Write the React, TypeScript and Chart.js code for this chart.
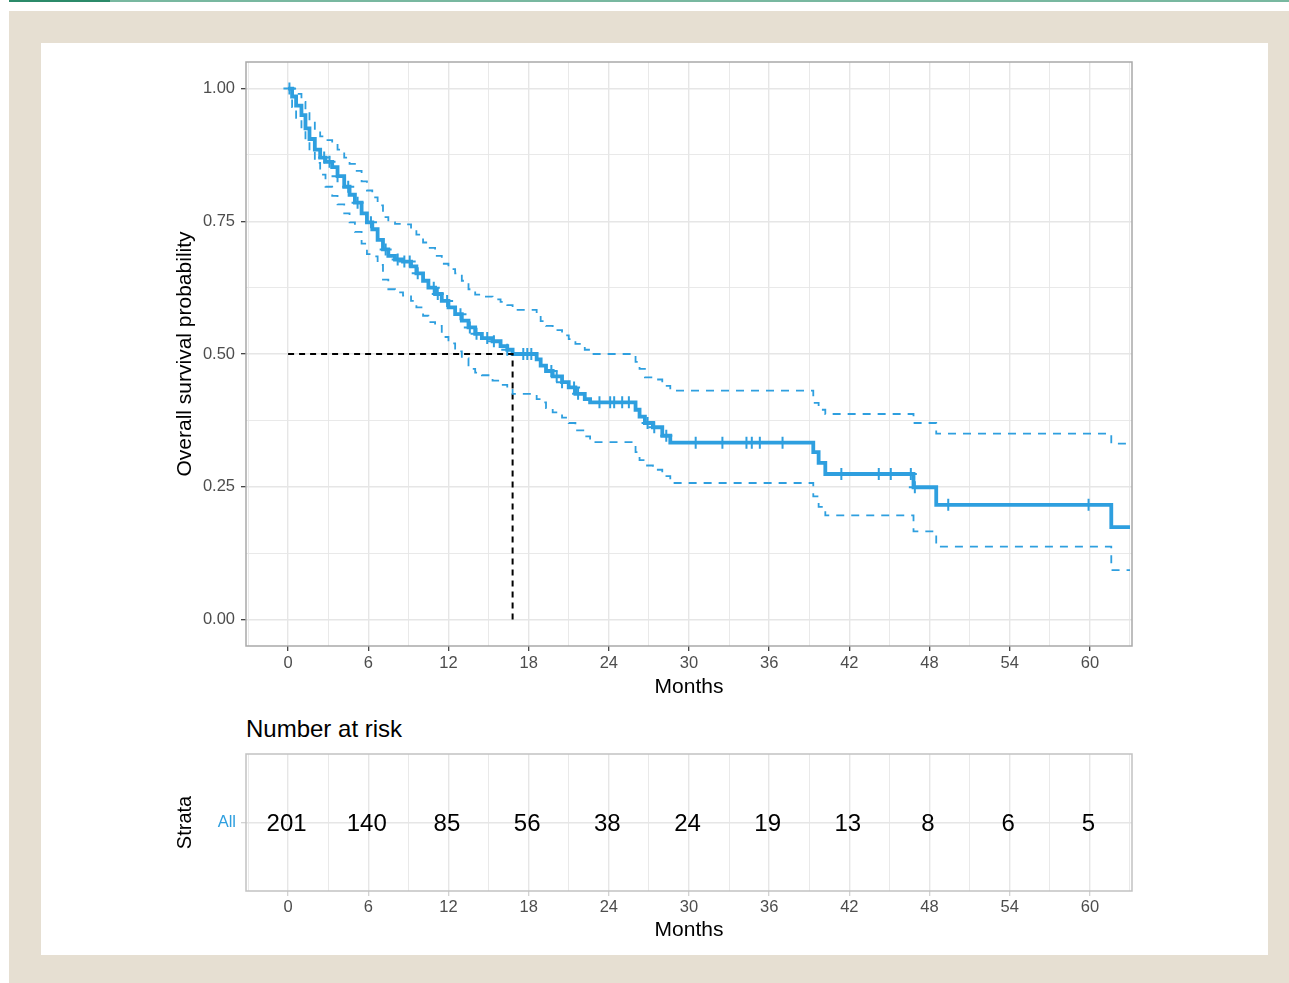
import React, { useEffect, useRef } from 'react';
import { Chart, registerables } from 'chart.js';

Chart.register(...registerables);

// ---- Data ----
const survTimes = [0, 0.3, 0.6, 1.0, 1.3, 1.6, 2.0, 2.4, 2.8, 3.3, 3.7, 4.2, 4.6, 5.0, 5.5, 5.9, 6.3, 6.7, 7.1, 7.5, 8.0, 8.6, 9.2, 9.6, 10.1, 10.5, 11.0, 11.5, 12.0, 12.5, 13.0, 13.5, 14.0, 14.5, 15.3, 15.9, 16.4, 16.8, 18.6, 18.9, 19.3, 19.8, 20.5, 21.0, 21.5, 22.2, 22.6, 26.0, 26.3, 26.7, 27.3, 28.0, 28.6, 39.3, 39.7, 40.2, 46.8, 48.5, 61.6, 63.0];
const survProb = [1.000, 0.985, 0.968, 0.950, 0.925, 0.905, 0.885, 0.870, 0.862, 0.852, 0.835, 0.815, 0.800, 0.785, 0.765, 0.748, 0.735, 0.715, 0.697, 0.685, 0.678, 0.674, 0.665, 0.652, 0.638, 0.625, 0.613, 0.600, 0.588, 0.575, 0.563, 0.550, 0.538, 0.530, 0.524, 0.515, 0.508, 0.500, 0.490, 0.478, 0.468, 0.458, 0.447, 0.437, 0.425, 0.415, 0.409, 0.395, 0.382, 0.370, 0.362, 0.346, 0.333, 0.315, 0.295, 0.274, 0.249, 0.216, 0.174, 0.174];
const upperCI = [1.000, 1.000, 0.990, 0.975, 0.958, 0.940, 0.922, 0.910, 0.903, 0.898, 0.885, 0.870, 0.858, 0.845, 0.825, 0.808, 0.795, 0.780, 0.758, 0.748, 0.745, 0.744, 0.735, 0.725, 0.710, 0.700, 0.685, 0.670, 0.660, 0.652, 0.638, 0.622, 0.612, 0.608, 0.603, 0.598, 0.592, 0.583, 0.572, 0.562, 0.553, 0.545, 0.535, 0.528, 0.519, 0.508, 0.500, 0.485, 0.472, 0.456, 0.452, 0.440, 0.431, 0.408, 0.395, 0.387, 0.370, 0.350, 0.331, 0.331];
const lowerCI = [1.000, 0.965, 0.945, 0.922, 0.900, 0.882, 0.860, 0.838, 0.815, 0.798, 0.782, 0.765, 0.748, 0.730, 0.708, 0.688, 0.684, 0.668, 0.640, 0.622, 0.616, 0.610, 0.600, 0.588, 0.572, 0.560, 0.553, 0.532, 0.520, 0.505, 0.492, 0.472, 0.465, 0.460, 0.450, 0.442, 0.436, 0.425, 0.415, 0.409, 0.398, 0.390, 0.380, 0.370, 0.356, 0.345, 0.334, 0.315, 0.300, 0.290, 0.282, 0.270, 0.257, 0.232, 0.212, 0.196, 0.166, 0.137, 0.093, 0.093];
const censorTimes = [0.1, 2.7, 3.1, 3.7, 4.5, 5.2, 6.2, 7.3, 8.2, 8.7, 9.1, 9.7, 10.9, 11.2, 11.9, 12.9, 13.6, 14.1, 14.9, 15.4, 16.4, 17.6, 17.9, 18.2, 19.7, 20.1, 20.5, 21.4, 21.7, 23.3, 24.1, 24.4, 25.0, 25.5, 26.9, 27.4, 28.3, 30.5, 32.5, 34.3, 34.7, 35.3, 37.0, 41.4, 44.2, 45.1, 46.6, 46.9, 49.4, 59.9];
const medianSurvival = 16.8;
const medianLevel = 0.5;

const xMajorTicks = [0, 6, 12, 18, 24, 30, 36, 42, 48, 54, 60];
const xMinorTicks = [-3, 3, 9, 15, 21, 27, 33, 39, 45, 51, 57, 63];
const yMajorTicks = [0, 0.25, 0.5, 0.75, 1];
const yMinorTicks = [0.125, 0.375, 0.625, 0.875];

const strataLabels = ['All'];
const riskTimes = [0, 6, 12, 18, 24, 30, 36, 42, 48, 54, 60];
const riskCounts = [201, 140, 85, 56, 38, 24, 19, 13, 8, 6, 5];

// ---- Styling ----
const BLUE = '#2E9FDF';
const FONT = '"Liberation Sans", Arial, Helvetica, sans-serif';
const GRID = '#e6e6e6';
const TICK_TEXT = '#4d4d4d';

const survAt = (t: number) => {
  let v = survProb[0];
  for (let i = 0; i < survTimes.length; i++) {
    if (survTimes[i] <= t) v = survProb[i];
  }
  return v;
};
const stepPoints = (vals: number[]) => survTimes.map((t, i) => ({ x: t, y: vals[i] }));

const isMajorX = (v: number) => xMajorTicks.includes(v);
const isMajorY = (v: number) => yMajorTicks.includes(v);

const panelBorder = (color: string) => ({
  id: 'panelBorder',
  afterDatasetsDraw(chart: any) {
    const { ctx, chartArea: a } = chart;
    ctx.save();
    ctx.strokeStyle = color;
    ctx.lineWidth = 1.5;
    ctx.strokeRect(a.left, a.top, a.right - a.left, a.bottom - a.top);
    ctx.restore();
  },
});

const xScale = (tickPad: number, titlePad: number, tickMarkColor: string) => ({
  type: 'linear',
  min: -3.15,
  max: 63.15,
  afterBuildTicks: (s: any) => {
    s.ticks = [...xMinorTicks, ...xMajorTicks].sort((a, b) => a - b).map((v) => ({ value: v }));
  },
  afterFit: (s: any) => {
    s.height = 64;
  },
  ticks: {
    autoSkip: false,
    maxRotation: 0,
    minRotation: 0,
    padding: tickPad,
    color: TICK_TEXT,
    font: { family: FONT, size: 16.5 },
    callback: (v: any) => (isMajorX(Number(v)) ? String(v) : ''),
  },
  grid: {
    color: GRID,
    lineWidth: (ctx: any) => (ctx.tick && isMajorX(ctx.tick.value) ? 1.4 : 0.9),
    tickLength: 5,
    tickWidth: 1.2,
    tickColor: (ctx: any) => (ctx.tick && isMajorX(ctx.tick.value) ? tickMarkColor : 'rgba(0,0,0,0)'),
  },
  border: { display: false },
  title: {
    display: true,
    text: 'Months',
    color: '#000',
    font: { family: FONT, size: 21 },
    padding: { top: 0, bottom: titlePad },
  },
});

export default function App() {
  const mainRef = useRef<HTMLCanvasElement | null>(null);
  const riskRef = useRef<HTMLCanvasElement | null>(null);

  useEffect(() => {
    document.body.style.margin = '0';
    Chart.defaults.font.family = FONT;

    const main = new Chart(mainRef.current as HTMLCanvasElement, {
      type: 'line',
      data: {
        datasets: [
          {
            label: 'Upper 95% CI',
            data: stepPoints(upperCI),
            borderColor: BLUE,
            borderWidth: 1.8,
            borderDash: [8, 7],
            stepped: true,
            pointRadius: 0,
            fill: false,
          },
          {
            label: 'Lower 95% CI',
            data: stepPoints(lowerCI),
            borderColor: BLUE,
            borderWidth: 1.8,
            borderDash: [8, 7],
            stepped: true,
            pointRadius: 0,
            fill: false,
          },
          {
            label: 'Median',
            data: [
              { x: 0, y: medianLevel },
              { x: medianSurvival, y: medianLevel },
              { x: medianSurvival, y: 0 },
            ],
            borderColor: '#000',
            borderWidth: 2,
            borderDash: [6, 5],
            pointRadius: 0,
            fill: false,
          },
          {
            label: 'All',
            data: stepPoints(survProb),
            borderColor: BLUE,
            borderWidth: 3.8,
            stepped: true,
            pointRadius: 0,
            fill: false,
          },
          {
            label: 'Censored',
            data: censorTimes.map((t) => ({ x: t, y: survAt(t) })),
            showLine: false,
            pointStyle: 'cross',
            pointRadius: 6,
            pointBorderWidth: 2,
            borderColor: BLUE,
            backgroundColor: BLUE,
          },
        ],
      } as any,
      options: {
        animation: false,
        responsive: false,
        events: [],
        layout: { padding: { left: 0, right: 18, top: 16, bottom: 0 } },
        plugins: { legend: { display: false }, tooltip: { enabled: false }, title: { display: false } },
        scales: {
          x: xScale(2.9, 10.4, '#333333') as any,
          y: {
            type: 'linear',
            min: -0.05,
            max: 1.05,
            afterBuildTicks: (s: any) => {
              s.ticks = [...yMajorTicks, ...yMinorTicks].sort((a, b) => a - b).map((v) => ({ value: v }));
            },
            afterFit: (s: any) => {
              s.width = 86;
            },
            ticks: {
              autoSkip: false,
              padding: 6,
              color: TICK_TEXT,
              font: { family: FONT, size: 16.5 },
              callback: (v: any) => (isMajorY(Number(v)) ? Number(v).toFixed(2) : ''),
            },
            grid: {
              color: GRID,
              lineWidth: (ctx: any) => (ctx.tick && isMajorY(ctx.tick.value) ? 1.4 : 0.9),
              tickLength: 5,
              tickWidth: 1.2,
              tickColor: (ctx: any) => (ctx.tick && isMajorY(ctx.tick.value) ? '#333333' : 'rgba(0,0,0,0)'),
            },
            border: { display: false },
            title: {
              display: true,
              text: 'Overall survival probability',
              color: '#000',
              font: { family: FONT, size: 21 },
              padding: { top: 12.4, bottom: 0 },
            },
          } as any,
        },
      },
      plugins: [panelBorder('#a9a9a9')],
    });

    const riskLabels = {
      id: 'riskLabels',
      afterDatasetsDraw(chart: any) {
        const meta = chart.getDatasetMeta(0);
        const { ctx } = chart;
        ctx.save();
        ctx.fillStyle = '#000';
        ctx.font = `24px ${FONT}`;
        ctx.textAlign = 'center';
        ctx.textBaseline = 'middle';
        meta.data.forEach((el: any, i: number) => {
          ctx.fillText(String(riskCounts[i]), el.x - 1.5, el.y + 1.5);
        });
        ctx.restore();
      },
    };

    const risk = new Chart(riskRef.current as HTMLCanvasElement, {
      type: 'line',
      data: {
        datasets: [
          {
            label: strataLabels[0],
            data: riskTimes.map((t) => ({ x: t, y: 0.5 })),
            showLine: false,
            pointRadius: 0,
          },
        ],
      } as any,
      options: {
        animation: false,
        responsive: false,
        events: [],
        layout: { padding: { left: 0, right: 18, top: 15, bottom: 0 } },
        plugins: { legend: { display: false }, tooltip: { enabled: false }, title: { display: false } },
        scales: {
          x: xScale(1.3, 12.4, '#cfcfcf') as any,
          y: {
            type: 'linear',
            min: 0,
            max: 1,
            afterBuildTicks: (s: any) => {
              s.ticks = [{ value: 0.5 }];
            },
            afterFit: (s: any) => {
              s.width = 86;
            },
            ticks: {
              autoSkip: false,
              padding: 5,
              color: BLUE,
              font: { family: FONT, size: 16.5 },
              callback: () => strataLabels[0],
            },
            grid: {
              color: GRID,
              lineWidth: 1.4,
              tickLength: 5,
              tickWidth: 1.2,
              tickColor: '#cfcfcf',
            },
            border: { display: false },
            title: {
              display: true,
              text: 'Strata',
              color: '#000',
              font: { family: FONT, size: 20 },
              padding: { top: 13, bottom: 0 },
            },
          } as any,
        },
      },
      plugins: [panelBorder('#c2c2c2'), riskLabels],
    });

    return () => {
      main.destroy();
      risk.destroy();
    };
  }, []);

  return (
    <div style={{ position: 'relative', width: 1289, height: 983, overflow: 'hidden', background: '#ffffff' }}>
      <div style={{ position: 'absolute', left: 9, top: 0, width: 101, height: 1.5, background: '#2b8a69' }} />
      <div style={{ position: 'absolute', left: 110, top: 0, width: 1179, height: 1.5, background: '#78b8a0' }} />
      <div style={{ position: 'absolute', left: 9, top: 11, width: 1280, height: 972, background: '#e6dfd2' }} />
      <div style={{ position: 'absolute', left: 41, top: 43, width: 1227, height: 912, background: '#ffffff' }} />
      <canvas ref={mainRef} width={990} height={664} style={{ position: 'absolute', left: 160, top: 46, width: 990, height: 664 }} />
      <div
        style={{
          position: 'absolute',
          left: 246,
          top: 716.7,
          fontFamily: FONT,
          fontSize: 24,
          lineHeight: '24px',
          color: '#000',
          whiteSpace: 'nowrap',
        }}
      >
        Number at risk
      </div>
      <canvas ref={riskRef} width={990} height={216} style={{ position: 'absolute', left: 160, top: 739, width: 990, height: 216 }} />
    </div>
  );
}
